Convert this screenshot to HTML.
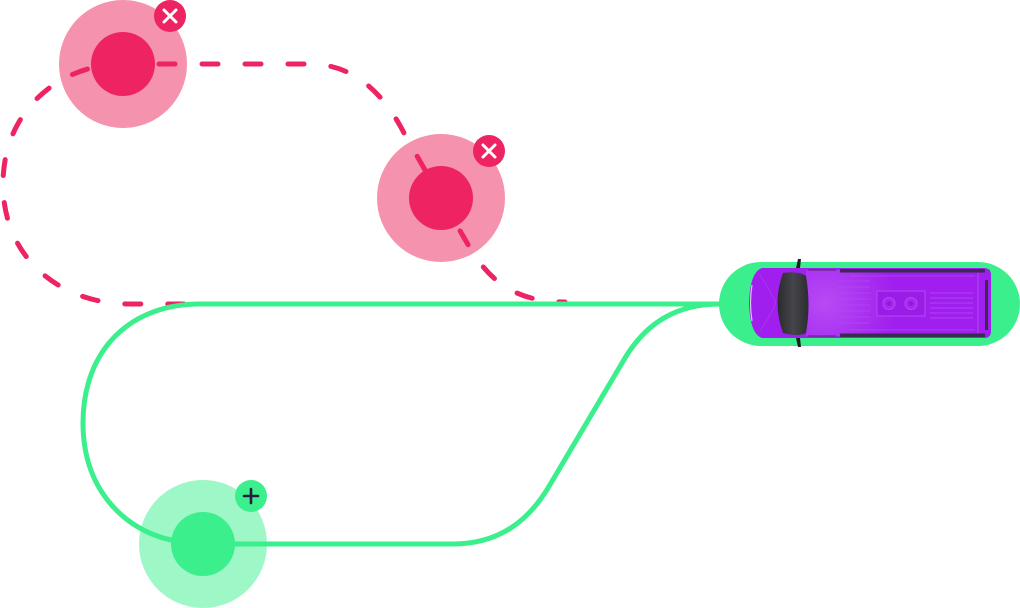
<!DOCTYPE html>
<html>
<head>
<meta charset="utf-8">
<style>
  html, body { margin: 0; padding: 0; background: #ffffff; }
  body { width: 1020px; height: 608px; overflow: hidden; }
  svg { display: block; }
</style>
</head>
<body>
<svg width="1020" height="608" viewBox="0 0 1020 608" xmlns="http://www.w3.org/2000/svg">
  <defs>
    <radialGradient id="roofHi" cx="825" cy="303" r="70" gradientUnits="userSpaceOnUse">
      <stop offset="0" stop-color="#BA52F6"/>
      <stop offset="1" stop-color="#A11FEE"/>
    </radialGradient>
    <linearGradient id="glass" x1="0" y1="0" x2="1" y2="0">
      <stop offset="0" stop-color="#2a2a2e"/>
      <stop offset="0.5" stop-color="#45454b"/>
      <stop offset="1" stop-color="#2c2c30"/>
    </linearGradient>
  </defs>

  <!-- outer halos -->
  <circle cx="123" cy="64" r="64" fill="#F592AE"/>
  <circle cx="441" cy="198" r="64" fill="#F592AE"/>
  <circle cx="203" cy="544" r="64" fill="#9DF7C6"/>

  <!-- pink dashed route -->
  <g fill="none" stroke="#EE2462" stroke-width="5" stroke-linecap="round" stroke-dasharray="16 27" stroke-dashoffset="7">
    <path d="M 123 64 L 310 64 C 355 64, 385 95, 405 135 L 441 198 L 470 248 C 492 285, 520 302, 565 302"/>
    <path d="M 123 64 C 60 64, 3 110, 3 184 C 3 258, 60 304, 130 304 L 200 304"/>
  </g>

  <!-- green route -->
  <g fill="none" stroke="#3BEF8D" stroke-width="5" stroke-linecap="round">
    <path d="M 200 304 L 720 304"/>
    <path d="M 200 304 C 130 304, 83 350, 83 423 C 83 490, 125 530, 171 540"/>
    <path d="M 203 544 L 453 544 C 500 544, 530 520, 551 483 L 625 358 C 648 320, 680 304, 720 304"/>
  </g>

  <!-- inner dots -->
  <circle cx="123" cy="64" r="32" fill="#EE2462"/>
  <circle cx="441" cy="198" r="32" fill="#EE2462"/>
  <circle cx="203" cy="544" r="32" fill="#3BEF8D"/>

  <!-- badges -->
  <g>
    <circle cx="170" cy="16" r="16" fill="#EE2462"/>
    <path d="M 164 10 L 176 22 M 176 10 L 164 22" stroke="#ffffff" stroke-width="3" stroke-linecap="round"/>
    <circle cx="489" cy="151" r="16" fill="#EE2462"/>
    <path d="M 483 145 L 495 157 M 495 145 L 483 157" stroke="#ffffff" stroke-width="3" stroke-linecap="round"/>
    <circle cx="251" cy="496" r="16" fill="#3BEF8D"/>
    <path d="M 244 496 L 258 496 M 251 489 L 251 503" stroke="#2B1A3F" stroke-width="2.6" stroke-linecap="round"/>
  </g>

  <!-- van pill -->
  <rect x="719" y="262" width="301" height="84" rx="42" ry="42" fill="#3BEF8D"/>

  <!-- van -->
  <g>
    <!-- mirrors -->
    <path d="M 796 268 L 798 259 L 801 259 L 800 268 Z" fill="#1f1f24"/>
    <path d="M 796 338 L 798 347 L 801 347 L 800 338 Z" fill="#1f1f24"/>
    <!-- body -->
    <path d="M 762 268 L 984 268 Q 991 268 991 275 L 991 331 Q 991 338 984 338 L 762 338 Q 750 334 749 303 Q 750 272 762 268 Z" fill="#A11FEE"/>
    <!-- roof highlight -->
    <path d="M 806 270 L 990 270 L 990 336 L 806 336 Z" fill="url(#roofHi)" opacity="0.85"/>
    <!-- front edge chrome -->
    <path d="M 752 285 Q 749 303 752 321" stroke="#d8c8e8" stroke-width="1.2" fill="none"/>
    <!-- hood lines -->
    <path d="M 760 275 Q 770 290 776 303 M 760 331 Q 770 316 776 303" stroke="#B647F4" stroke-width="1" fill="none" opacity="0.5"/>
    <!-- windshield -->
    <path d="M 783 273 Q 799 271 806 276 Q 811 305 806 333 Q 799 337 783 333 Q 772 303 783 273 Z" fill="url(#glass)"/>
    <!-- roof rails -->
    <rect x="840" y="269" width="145" height="3.5" fill="#3b2a50"/>
    <rect x="840" y="333.5" width="145" height="3.5" fill="#3b2a50"/>
    <rect x="808" y="269" width="28" height="2" fill="#4a2f63" opacity="0.5"/>
    <rect x="808" y="335" width="28" height="2" fill="#4a2f63" opacity="0.5"/>
    <!-- rear -->
    <rect x="985" y="280" width="3" height="50" fill="#3b2a50"/>
    <path d="M 978 273 L 978 333" stroke="#B85AF3" stroke-width="1" opacity="0.7"/>
    <!-- roof ribs left -->
    <g stroke="#B24BF2" stroke-width="1" opacity="0.7">
      <line x1="838" y1="281" x2="870" y2="281"/>
      <line x1="838" y1="287" x2="870" y2="287"/>
      <line x1="838" y1="293" x2="870" y2="293"/>
      <line x1="838" y1="299" x2="870" y2="299"/>
      <line x1="838" y1="305" x2="870" y2="305"/>
      <line x1="838" y1="311" x2="870" y2="311"/>
      <line x1="838" y1="317" x2="870" y2="317"/>
      <line x1="838" y1="323" x2="870" y2="323"/>
    </g>
    <!-- roof ribs right -->
    <g stroke="#B24BF2" stroke-width="1" opacity="0.8">
      <line x1="930" y1="293" x2="973" y2="293"/>
      <line x1="930" y1="298" x2="973" y2="298"/>
      <line x1="930" y1="303" x2="973" y2="303"/>
      <line x1="930" y1="308" x2="973" y2="308"/>
      <line x1="930" y1="313" x2="973" y2="313"/>
      <line x1="930" y1="318" x2="973" y2="318"/>
    </g>
    <line x1="850" y1="276" x2="975" y2="276" stroke="#B24BF2" stroke-width="1" opacity="0.7"/>
    <line x1="850" y1="330" x2="975" y2="330" stroke="#B24BF2" stroke-width="1" opacity="0.7"/>
    <!-- roof panel -->
    <rect x="877" y="291" width="48" height="25" fill="#9A1CE6" stroke="#B24BF2" stroke-width="1"/>
    <circle cx="889" cy="303.5" r="6" fill="#A52BEF" stroke="#B24BF2" stroke-width="1"/>
    <circle cx="889" cy="303.5" r="2.5" fill="#9417E0"/>
    <circle cx="911" cy="303.5" r="6" fill="#A52BEF" stroke="#B24BF2" stroke-width="1"/>
    <circle cx="911" cy="303.5" r="2.5" fill="#9417E0"/>
  </g>
</svg>
</body>
</html>
